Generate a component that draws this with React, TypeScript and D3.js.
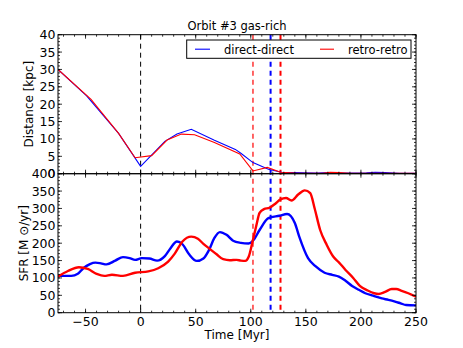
import React from 'react';
import * as d3 from 'd3';

// ---- Distance panel (kpc) ----
const blueDistT = [-75, -49, -20, 0, 22, 33, 46, 67, 86, 91, 102, 116, 128, 140, 160, 170, 178, 190, 205, 213, 222, 235, 250];
const blueDistV = [30, 22.4, 11.6, 2.1, 9.3, 11.4, 12.8, 9.6, 7.0, 5.9, 3.2, 1.3, 0.4, 0.3, 0.2, 0.35, 0.2, 0.2, 0.25, 0.4, 0.35, 0.15, 0.1];
const redDistT = [-75, -45, -20, -5, 10, 24, 37, 49, 67, 90, 102, 115, 127, 140, 165, 172, 180, 190, 250];
const redDistV = [30, 21.4, 11.6, 4.6, 5.2, 9.7, 11.4, 11.2, 9.0, 5.7, 0.8, 1.8, 0.4, 0.2, 0.15, 0.4, 0.35, 0.1, 0.1];

// ---- SFR panel (Msun/yr) ----
const blueSfrT = [-75, -63, -57, -52, -46, -41, -36, -31, -23, -16, -10, -5, 1, 8, 15, 22, 27, 33, 38, 44, 51, 57, 62, 67, 72, 78, 84, 91, 98, 102, 108, 116, 126, 133, 140, 144, 152, 159, 167, 174, 180, 186, 192, 198, 204, 211, 219, 225, 231, 236, 241, 250];
const blueSfrV = [106, 106, 112, 128, 140, 144, 142, 139, 150, 160, 157, 152, 157, 156, 150, 163, 185, 205, 197, 168, 149, 156, 180, 215, 232, 224, 207, 201, 199, 207, 238, 272, 279, 284, 258, 219, 157, 133, 115, 109, 104, 92, 77, 66, 56, 49, 41, 37, 32, 27, 22, 21];
const redSfrT = [-75, -66, -56, -48, -40, -33, -26, -16, -5, 7, 16, 25, 31, 38, 46, 52, 57, 63, 69, 75, 81, 87, 91, 95, 98, 102, 105, 108, 112, 117, 122, 127, 132, 137, 143, 149, 154, 158, 163, 169, 175, 180, 186, 193, 199, 206, 212, 216, 222, 228, 232, 237, 243, 250];
const redSfrV = [104, 120, 131, 126, 112, 106, 109, 106, 115, 119, 128, 147, 170, 205, 219, 213, 198, 183, 168, 154, 151, 152, 150, 149, 160, 210, 250, 287, 298, 302, 313, 326, 330, 323, 340, 352, 344, 300, 238, 195, 161, 145, 123, 100, 77, 64, 56, 54, 60, 68, 68, 63, 56, 46];

// ---- vertical markers ----
const markerT = [0, 102, 118, 127];
const markerColor = ['#000000', '#ff0000', '#0000ff', '#ff0000'];
const markerWidth = [1, 1.2, 2, 2];

const xTicks = [-50, 0, 50, 100, 150, 200, 250];
const distTicks = [0, 5, 10, 15, 20, 25, 30, 35, 40];
const sfrTicks = [0, 50, 100, 150, 200, 250, 300, 350, 400];

const legendLabels = ['direct-direct', 'retro-retro'];
const seriesColors = ['#0000ff', '#ff0000'];

const FONT = 'DejaVu Sans, sans-serif';

export default function App() {
  const W = 463, H = 348;
  const L = 58, R = 416;
  const T1 = 34.7, B1 = 173.7, T2 = 173.7, B2 = 312.7;
  const x = d3.scaleLinear().domain([-75, 250]).range([L, R]);
  const yD = d3.scaleLinear().domain([0, 40]).range([B1, T1]);
  const yS = d3.scaleLinear().domain([0, 400]).range([B2, T2]);
  const fmt = d3.format('d');

  const mk = (ts: number[], vs: number[], ys: d3.ScaleLinear<number, number>, curve: d3.CurveFactory) =>
    d3.line<number>().x((d) => x(d)).y((_, i) => ys(vs[i])).curve(curve)(ts) || '';

  const xMinor = d3.range(-70, 251, 10);
  const dMinor = d3.range(0, 41, 1);
  const sMinor = d3.range(0, 401, 10);

  const tk = { stroke: '#000', strokeWidth: 0.8 } as const;

  const panelTicks = (top: number, bottom: number, ys: d3.ScaleLinear<number, number>, major: number[], minor: number[], key: string) => (
    <g key={key}>
      {minor.map((v) => (
        <g key={'mx' + v}>
          <line x1={L} x2={L + 2} y1={ys(v)} y2={ys(v)} {...tk} />
          <line x1={R} x2={R - 2} y1={ys(v)} y2={ys(v)} {...tk} />
        </g>
      ))}
      {major.map((v) => (
        <g key={'My' + v}>
          <line x1={L} x2={L + 4} y1={ys(v)} y2={ys(v)} {...tk} />
          <line x1={R} x2={R - 4} y1={ys(v)} y2={ys(v)} {...tk} />
        </g>
      ))}
      {xMinor.map((v) => (
        <g key={'xm' + v}>
          <line x1={x(v)} x2={x(v)} y1={bottom} y2={bottom - 2} {...tk} />
          <line x1={x(v)} x2={x(v)} y1={top} y2={top + 2} {...tk} />
        </g>
      ))}
      {xTicks.map((v) => (
        <g key={'xM' + v}>
          <line x1={x(v)} x2={x(v)} y1={bottom} y2={bottom - 4} {...tk} />
          <line x1={x(v)} x2={x(v)} y1={top} y2={top + 4} {...tk} />
        </g>
      ))}
      {major.map((v) => (
        <text key={'ly' + v} x={L - 2.5} y={ys(v)} dy="0.36em" textAnchor="end" fontSize={12.5} fontFamily={FONT}>
          {fmt(v)}
        </text>
      ))}
    </g>
  );

  return (
    <svg width={W} height={H} style={{ position: 'absolute', left: 0, top: 0, background: '#fff' }}>
      <defs>
        <clipPath id="c1"><rect x={L} y={T1} width={R - L} height={B1 - T1} /></clipPath>
        <clipPath id="c2"><rect x={L} y={T2} width={R - L} height={B2 - T2} /></clipPath>
      </defs>
      <rect x={0} y={0} width={W} height={H} fill="#fff" />
      <rect x={L} y={T1} width={R - L} height={B2 - T1} fill="#fff" />

      {/* vertical dashed markers */}
      {markerT.map((t, i) => (
        <line key={'m' + i} x1={x(t)} x2={x(t)} y1={T1} y2={B2} stroke={markerColor[i]} strokeWidth={markerWidth[i]} strokeDasharray="5,4" />
      ))}

      {/* distance lines */}
      <g clipPath="url(#c1)" fill="none">
        <path d={mk(blueDistT, blueDistV, yD, d3.curveLinear)} stroke={seriesColors[0]} strokeWidth={1.1} />
        <path d={mk(redDistT, redDistV, yD, d3.curveLinear)} stroke={seriesColors[1]} strokeWidth={1.1} />
      </g>

      {/* SFR lines */}
      <g clipPath="url(#c2)" fill="none">
        <path d={mk(blueSfrT, blueSfrV, yS, d3.curveMonotoneX)} stroke={seriesColors[0]} strokeWidth={2.4} />
        <path d={mk(redSfrT, redSfrV, yS, d3.curveMonotoneX)} stroke={seriesColors[1]} strokeWidth={2.4} />
      </g>

      {/* legend */}
      <g>
        <rect x={186.7} y={40} width={224.3} height={18.3} fill="#fff" stroke="#000" strokeWidth={1} />
        <line x1={195} x2={210} y1={49.2} y2={49.2} stroke={seriesColors[0]} strokeWidth={1.1} />
        <text x={224} y={53.5} fontSize={11.5} fontFamily={FONT}>{legendLabels[0]}</text>
        <line x1={320} x2={334} y1={49.2} y2={49.2} stroke={seriesColors[1]} strokeWidth={1.1} />
        <text x={348} y={53.5} fontSize={11.5} fontFamily={FONT}>{legendLabels[1]}</text>
      </g>

      {/* frames */}
      <rect x={L} y={T1} width={R - L} height={B1 - T1} fill="none" stroke="#000" strokeWidth={1} />
      <rect x={L} y={T2} width={R - L} height={B2 - T2} fill="none" stroke="#000" strokeWidth={1} />

      {panelTicks(T1, B1, yD, distTicks, dMinor, 'p1')}
      {panelTicks(T2, B2, yS, sfrTicks, sMinor, 'p2')}

      {xTicks.map((v) => (
        <text key={'xl' + v} x={x(v)} y={325.5} textAnchor="middle" fontSize={12.5} fontFamily={FONT}>{fmt(v)}</text>
      ))}

      <text x={(L + R) / 2} y={30} textAnchor="middle" fontSize={11.5} fontFamily={FONT}>Orbit #3 gas-rich</text>
      <text x={(L + R) / 2} y={339} textAnchor="middle" fontSize={12} fontFamily={FONT}>Time [Myr]</text>
      <text transform={`translate(32.5,${(T1 + B1) / 2}) rotate(-90)`} textAnchor="middle" fontSize={12} fontFamily={FONT}>Distance [kpc]</text>
      <text transform={`translate(28,${(T2 + B2) / 2}) rotate(-90)`} textAnchor="middle" fontSize={12} fontFamily={FONT}>SFR [M ⊙/yr]</text>
    </svg>
  );
}
